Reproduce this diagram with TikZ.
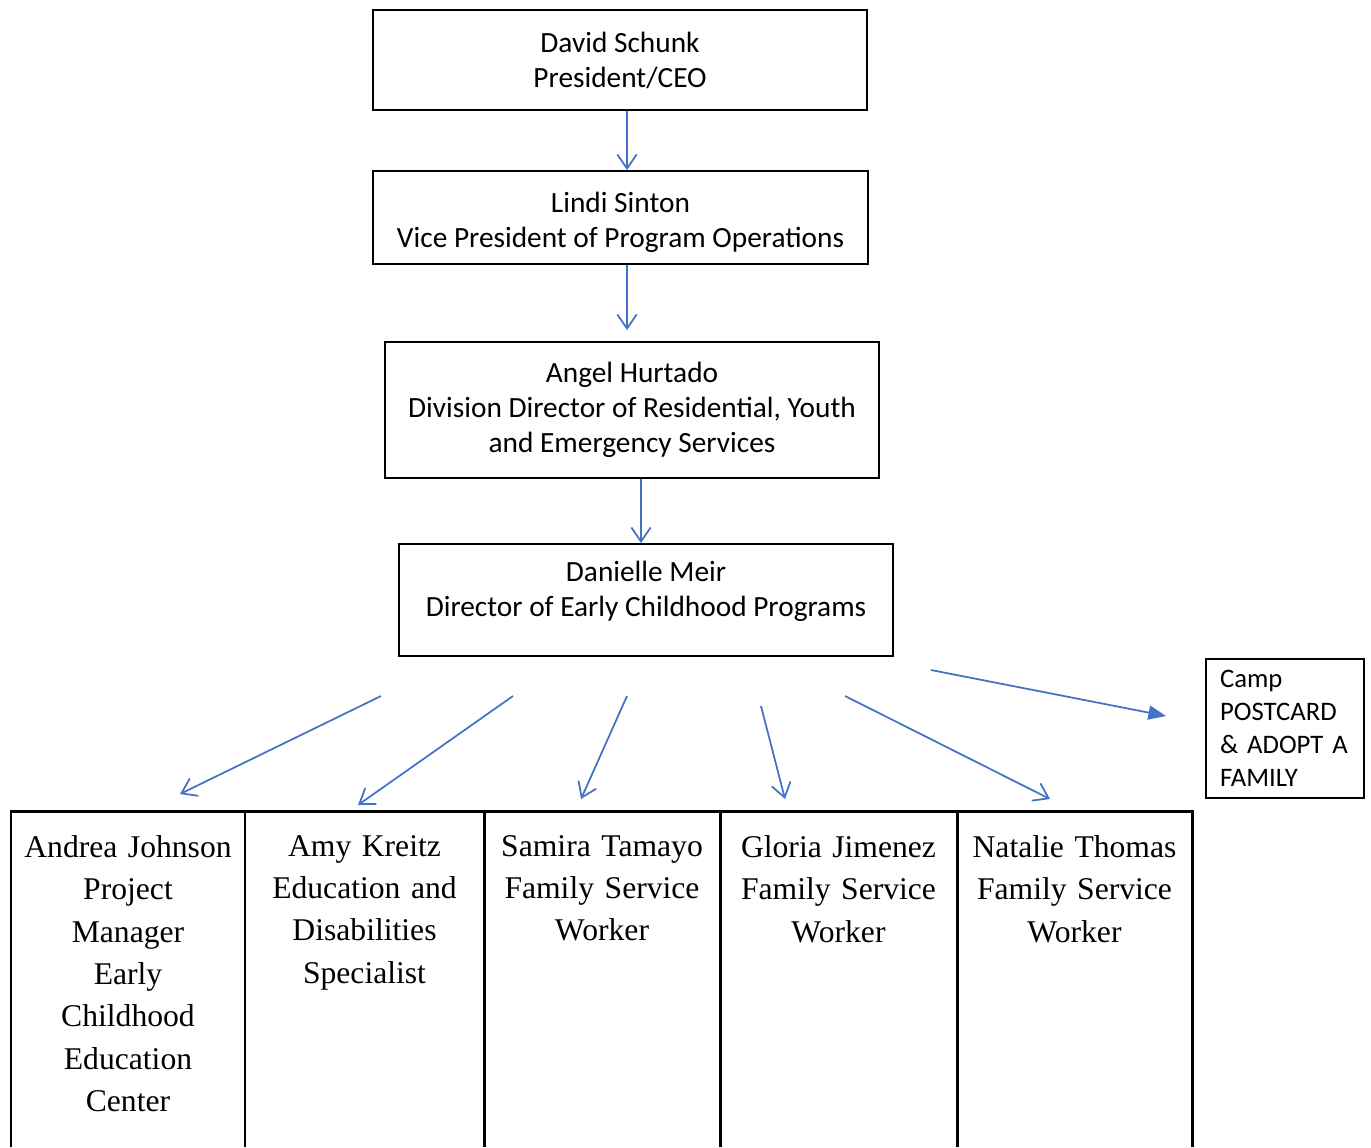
\documentclass[tikz,border=0pt]{standalone}
\usepackage{fontspec}
\setmainfont{Carlito}
\newfontfamily\cellfont{Liberation Serif}
\usetikzlibrary{positioning}
\usetikzlibrary{calc}
\usetikzlibrary{arrows.meta}
\definecolor{linkblue}{RGB}{68,114,196}
\tikzset{box/.style={draw,line width=1.1pt,align=center,inner sep=0pt,font=\fontsize{16.7}{19.9}\selectfont}}
\tikzset{link/.style={draw=linkblue,line width=1pt,-{Straight Barb[length=8pt,width=11pt]}}}
\tikzset{cell/.style={anchor=north,align=center,inner sep=0pt,text width=4.5cm,font=\cellfont\fontsize{18}{24.1}\selectfont}}
\tikzset{grid/.style={line width=1.7pt}}

\begin{document}
\begin{tikzpicture}[x=0.02cm,y=-0.02cm]
\useasboundingbox (0,0) rectangle (1371,1147);

% chain of command
\node[box,minimum width=9.88cm,minimum height=2cm] (ceo) at (620,60) {David Schunk\\President/CEO};
\node[box,minimum width=9.9cm,minimum height=1.86cm] (vp) at (620.5,217.5) {\rule{0pt}{17pt}Lindi Sinton\\Vice President of Program Operations};
\node[box,minimum width=9.88cm,minimum height=2.72cm] (div) at (632,410) {Angel Hurtado\\Division Director of Residential, Youth\\and Emergency Services};
\node[box,minimum width=9.88cm,minimum height=2.24cm] (dir) at (646,600) {Danielle Meir\\Director of Early Childhood Programs\rule[-13pt]{0pt}{13pt}};

\node[draw,line width=1.1pt,align=left,text width=2.6cm,inner xsep=0.28cm,inner ysep=0pt,minimum height=2.78cm,font=\fontsize{15.2}{18.7}\selectfont] (camp) at (1285,728.5) {Camp\\POSTCARD\\\mbox{\&~ADOPT~A}\\FAMILY};

\draw[link] ($(ceo.south)+(7,0)$) -- ($(vp.north)+(6.5,0)$);
\draw[link] ($(vp.south)+(6.5,0)$) -- ($(div.north)+(-5,-11)$);
\draw[link] ($(div.south)+(9,0)$) -- ($(dir.north)+(-5,0)$);

% staff table
\draw[grid] (11,1147) -- (11,811) -- (1192,811) -- (1192,1147);
\foreach \x in {245,484,720,957}
  \draw[grid] (\x,811) -- (\x,1147);

\node[cell] (andrea) at (128,835) {Andrea Johnson\\Project\\Manager\\Early\\Childhood\\Education\\Center};
\node[cell] (amy) at (364.5,835) {Amy Kreitz\\Education and\\Disabilities\\Specialist};
\node[cell] (samira) at (602,835) {Samira Tamayo\\Family Service\\Worker};
\node[cell] (gloria) at (838.5,835) {Gloria Jimenez\\Family Service\\Worker};
\node[cell] (natalie) at (1074.5,835) {Natalie Thomas\\Family Service\\Worker};

% fan out from the director
\coordinate (andreaFrom) at (381,696);
\coordinate (andreaTip) at (180,794);
\coordinate (amyFrom) at (513,696);
\coordinate (amyTip) at (358,805);
\coordinate (samiraFrom) at (627,696);
\coordinate (samiraTip) at (581,799);
\coordinate (gloriaFrom) at (761,706);
\coordinate (gloriaTip) at (785,799);
\coordinate (natalieFrom) at (845,696);
\coordinate (natalieTip) at (1050,799);
\coordinate (campFrom) at (931,670);
\coordinate (campTip) at (1166,716);

\draw[link] (andreaFrom) -- (andreaTip);
\draw[link] (amyFrom) -- (amyTip);
\draw[link] (samiraFrom) -- (samiraTip);
\draw[link] (gloriaFrom) -- (gloriaTip);
\draw[link] (natalieFrom) -- (natalieTip);
\draw[link,-{Triangle[length=10pt,width=8pt]}] (campFrom) -- (campTip);

\end{tikzpicture}
\end{document}
